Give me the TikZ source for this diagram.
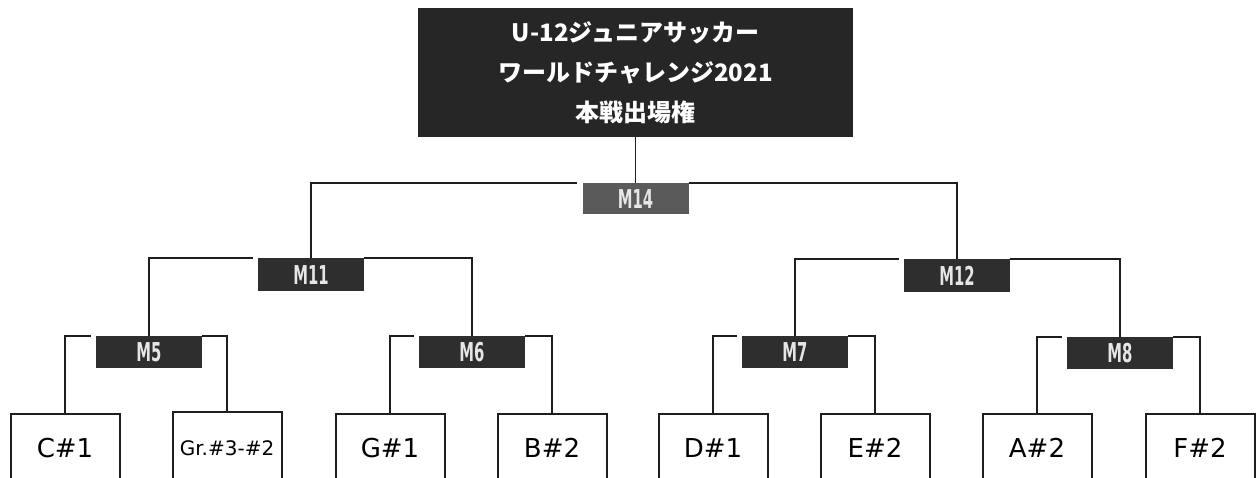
\documentclass[tikz,border=0pt]{standalone}
\usepackage{fontspec}
\setmainfont{Noto Sans CJK JP}
\newfontfamily\leaffont{DejaVu Sans}
\newfontfamily\mfont{DejaVu Sans}
\usetikzlibrary{calc}
\definecolor{titlebg}{HTML}{262626}
\definecolor{mdark}{HTML}{2E2E2E}
\definecolor{mgray}{HTML}{5A5A5A}
\definecolor{mtext}{HTML}{E6E6E6}
\definecolor{ln}{HTML}{1E1E1E}
\newcommand{\mlab}[1]{\scalebox{0.57}[1]{#1}}
\begin{document}
\begin{tikzpicture}[x=1pt,y=-1pt,
  conn/.style={line width=1.8pt, draw=ln},
  leafbox/.style={draw=ln, line width=2pt, fill=white, minimum width=109pt, inner sep=0pt,
     text height=43pt, text depth=40pt, anchor=base, font=\leaffont\fontsize{26}{30}\selectfont},
  mbox/.style={fill=mdark, text=mtext, minimum width=106pt, minimum height=32pt, inner sep=0pt,
     anchor=north, font=\mfont\bfseries\fontsize{26}{28}\selectfont},
  titlebox/.style={fill=titlebg, text=white, minimum width=435pt, minimum height=129pt,
     inner sep=0pt, align=center, font=\fontsize{24}{40}\selectfont\bfseries}
]
\useasboundingbox (0,0) rectangle (1260,477);
\clip (0,0) rectangle (1260,477);
\fill[white] (0,0) rectangle (1260,477);

% title
\node[titlebox] (title) at (635.5,72.5) {U-12ジュニアサッカー\\ワールドチャレンジ2021\\本戦出場権};

% match boxes
\node[mbox, fill=mgray, minimum height=31pt] (m14) at (635.5,183) {\mlab{M14}};
\node[mbox, minimum height=33pt] (m11) at (311,258) {\mlab{M11}};
\node[mbox, minimum height=33pt] (m12) at (957,259) {\mlab{M12}};
\node[mbox] (m5) at (149,336) {\mlab{M5}};
\node[mbox] (m6) at (472,336) {\mlab{M6}};
\node[mbox] (m7) at (795,336) {\mlab{M7}};
\node[mbox] (m8) at (1120,337) {\mlab{M8}};

% leaves
\node[leafbox] (c1) at (65,457) {C\#1};
\node[leafbox, font=\leaffont\fontsize{20}{24}\selectfont] (gr) at (227,455) {Gr.\#3-\#2};
\node[leafbox] (g1) at (390,457) {G\#1};
\node[leafbox] (b2) at (552,457) {B\#2};
\node[leafbox] (d1) at (713,457) {D\#1};
\node[leafbox] (e2) at (875,457) {E\#2};
\node[leafbox] (a2) at (1037,457) {A\#2};
\node[leafbox] (f2) at (1200,457) {F\#2};

% connectors
\draw[conn] (title.south) -- (title.south |- m14.north);
\draw[conn] (m11.north) |- ($(m14.north west)+(-5,0)$);
\draw[conn] (m14.north east) -| (m12.north);
\draw[conn] (m5.north) |- ($(m11.north west)+(-5,0)$);
\draw[conn] (m11.north east) -| (m6.north);
\draw[conn] (m7.north) |- ($(m12.north west)+(-5,0)$);
\draw[conn] (m12.north east) -| (m8.north);
\draw[conn] (c1.north) |- ($(m5.north west)+(-5,0)$);
\draw[conn] (m5.north east) -| (gr.north);
\draw[conn] (g1.north) |- ($(m6.north west)+(-5,0)$);
\draw[conn] (m6.north east) -| (b2.north);
\draw[conn] (d1.north) |- ($(m7.north west)+(-5,0)$);
\draw[conn] (m7.north east) -| (e2.north);
\draw[conn] (a2.north) |- ($(m8.north west)+(-5,0)$);
\draw[conn] (m8.north east) -| (f2.north);
\end{tikzpicture}
\end{document}
